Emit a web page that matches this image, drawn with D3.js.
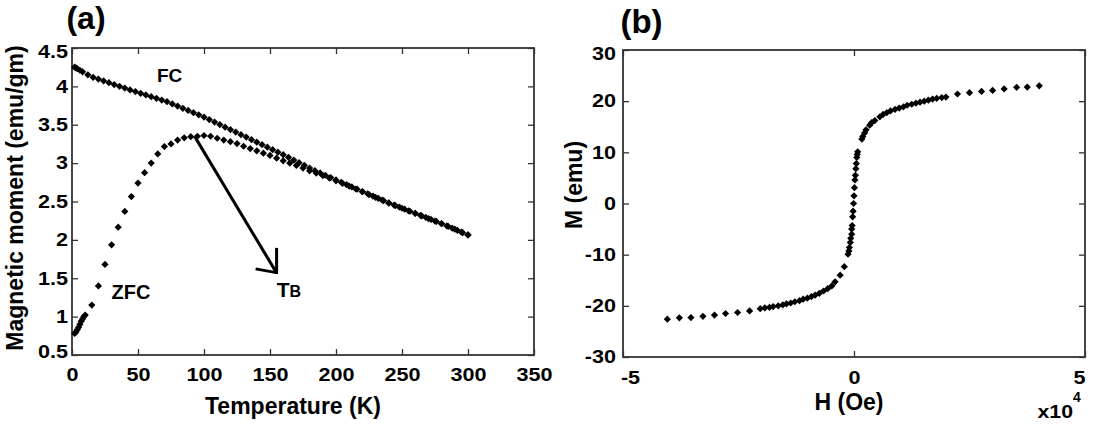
<!DOCTYPE html>
<html><head><meta charset="utf-8">
<script src="https://cdn.jsdelivr.net/npm/d3@7"></script>
<style>
body{margin:0;background:#fff}
svg{display:block}
text{font-family:"Liberation Sans",Arial,sans-serif;font-weight:bold;fill:#000}
</style>
</head><body>
<svg id="c" width="1094" height="428"></svg>
<script>
// ---------- Panel (a): FC / ZFC magnetisation vs temperature ----------
const fcT = [2,3,4,6,8,12,16,20,24,28,32,36,40,44,48,52,56,60,64,68,72,76,80,84,88,92,96,100,104,108,112,116,120,124,128,132,136,140,144,148,152,156,160,164,168,172,176,180,184,188,192,196,200,204,208,212,216,220,224,228,232,236,240,244,248,252,256,260,264,268,272,276,280,284,288,292,296,300];
const fcM = [4.25,4.24,4.23,4.21,4.19,4.15,4.118,4.095,4.071,4.048,4.024,4.001,3.978,3.954,3.932,3.910,3.888,3.866,3.844,3.822,3.80,3.771,3.743,3.714,3.686,3.657,3.629,3.60,3.567,3.535,3.502,3.469,3.437,3.404,3.371,3.339,3.306,3.273,3.241,3.208,3.175,3.143,3.11,3.075,3.040,3.006,2.971,2.936,2.902,2.872,2.842,2.812,2.781,2.751,2.721,2.690,2.66,2.630,2.601,2.571,2.541,2.512,2.482,2.453,2.427,2.400,2.373,2.347,2.320,2.293,2.267,2.24,2.211,2.182,2.152,2.123,2.094,2.065];
const zfcT = [2,3,4,5,6,7,8,9,10,15,20,25,30,35,40,45,50,55,60,65,70,75,80,85,90,95,100,105,110,115,120,125,130,135,140,145,150,155,160,165,170,175,180,185,190,195,200,205,210,215,220,225,230,235,240,245,250,255,260,265,270,275,280,285,290,295,300];
const zfcM = [0.78,0.80,0.83,0.86,0.90,0.94,0.97,1.00,1.02,1.15,1.40,1.68,1.935,2.165,2.37,2.564,2.74,2.876,3.0,3.12,3.215,3.25,3.30,3.33,3.345,3.35,3.36,3.35,3.324,3.30,3.28,3.255,3.22,3.19,3.16,3.13,3.10,3.064,3.03,3.0,2.97,2.935,2.90,2.87,2.838,2.805,2.77,2.735,2.70,2.663,2.627,2.59,2.553,2.517,2.48,2.445,2.412,2.378,2.345,2.312,2.278,2.245,2.21,2.175,2.14,2.10,2.065];
const aXTicks = [0,50,100,150,200,250,300,350];
const aYTicks = [0.5,1,1.5,2,2.5,3,3.5,4,4.5];
const arrowFrom = [93, 3.345];
const arrowTo = [155, 1.57];

// ---------- Panel (b): M-H loop ----------
const hField = [-4.04,-3.78,-3.53,-3.27,-3.02,-2.78,-2.52,-2.26,-2.03,-1.93,-1.83,-1.75,-1.64,-1.54,-1.46,-1.37,-1.28,-1.18,-1.10,-1.01,-0.92,-0.84,-0.75,-0.66,-0.57,-0.48,-0.41,-0.30,-0.21,-0.13,-0.11,-0.10,-0.08,-0.07,-0.05,-0.05,-0.04,-0.03,-0.02,-0.01,0.00,0.01,0.02,0.03,0.04,0.05,0.06,0.07,0.08,0.17,0.19,0.23,0.26,0.34,0.38,0.45,0.56,0.63,0.71,0.79,0.89,0.98,1.07,1.15,1.25,1.34,1.43,1.52,1.61,1.70,1.79,1.90,1.99,2.24,2.50,2.76,3.00,3.25,3.52,3.75,4.01];
const mMoment = [-22.6,-22.35,-22.3,-22.05,-21.8,-21.5,-21.3,-21.0,-20.55,-20.4,-20.3,-20.15,-20.0,-19.8,-19.6,-19.45,-19.2,-19.0,-18.7,-18.5,-18.2,-17.9,-17.55,-17.1,-16.65,-16.1,-15.3,-14.0,-12.35,-9.9,-9.3,-8.6,-7.6,-6.8,-6.0,-5.0,-4.3,-2.6,-1.5,0.0,1.5,3.1,4.6,5.5,6.8,7.8,9.0,9.6,10.1,12.6,13.1,13.8,14.4,15.3,15.8,16.2,16.95,17.4,17.75,18.1,18.4,18.65,18.9,19.2,19.4,19.6,19.8,20.0,20.2,20.4,20.55,20.7,20.8,21.4,21.65,21.9,22.1,22.4,22.7,22.75,23.0];
const bXTicks = [-5,0,5];
const bYTicks = [-30,-20,-10,0,10,20,30];

const svg = d3.select("#c");
const FRAME = "#333";
const diamond = d3.symbol().type(d3.symbolSquare).size(26);
const plain = d => String(d);

function drawFrame(x, y, xt, yt, opts) {
  const g = svg.append("g");
  const [x0, x1] = x.range(), [y0, y1] = y.range();
  const bx = g.append("g").attr("transform", `translate(0,${y0})`)
    .call(d3.axisBottom(x).tickValues(xt).tickSizeInner(-6).tickSizeOuter(0).tickPadding(opts.xPad).tickFormat(plain));
  g.append("g").attr("transform", `translate(0,${y1})`)
    .call(d3.axisTop(x).tickValues(xt).tickSizeInner(-6).tickSizeOuter(0).tickFormat(""));
  const ly = g.append("g").attr("transform", `translate(${x0},0)`)
    .call(d3.axisLeft(y).tickValues(yt).tickSizeInner(-6).tickSizeOuter(0).tickPadding(opts.yPad).tickFormat(plain));
  g.append("g").attr("transform", `translate(${x1},0)`)
    .call(d3.axisRight(y).tickValues(yt).tickSizeInner(-6).tickSizeOuter(0).tickFormat(""));
  g.selectAll(".domain").remove();
  g.selectAll("g").attr("font-family", null).attr("font-size", null);
  g.selectAll(".tick line").attr("stroke", FRAME).attr("stroke-width", 1.3);
  g.selectAll(".tick text").attr("font-size", 18).classed("tk", true).attr("fill", "#000");
  g.append("rect").attr("x", x0).attr("y", y1).attr("width", x1 - x0).attr("height", y0 - y1)
    .attr("fill", "none").attr("stroke", FRAME).attr("stroke-width", 1.8);
  return {bx, ly};
}

// Panel (a)
const xA = d3.scaleLinear().domain([0, 350]).range([72, 534]);
const yA = d3.scaleLinear().domain([0.5, 4.5]).range([355, 48]);
const fa = drawFrame(xA, yA, aXTicks, aYTicks, {xPad: 13, yPad: 4});
fa.ly.selectAll(".tick text").filter(d => d === 4.5).attr("dy", "0.55em");
fa.ly.selectAll(".tick text").filter(d => d === 0.5).attr("dy", "0.12em");

const ga = svg.append("g");
ga.selectAll("path.fc").data(fcT.map((t, i) => [t, fcM[i]])).join("path")
  .attr("d", diamond).attr("fill", "#000")
  .attr("transform", d => `translate(${xA(d[0])},${yA(d[1])}) rotate(45)`);
ga.selectAll("path.zfc").data(zfcT.map((t, i) => [t, zfcM[i]])).join("path")
  .attr("d", diamond).attr("fill", "#000")
  .attr("transform", d => `translate(${xA(d[0])},${yA(d[1])}) rotate(45)`);

// arrow to T_B
const ax1 = xA(arrowFrom[0]), ay1 = yA(arrowFrom[1]), ax2 = xA(arrowTo[0]), ay2 = yA(arrowTo[1]);
ga.append("line").attr("x1", ax1).attr("y1", ay1).attr("x2", ax2).attr("y2", ay2)
  .attr("stroke", "#000").attr("stroke-width", 3);
ga.append("line").attr("x1", ax2).attr("y1", ay2 + 1).attr("x2", ax2).attr("y2", ay2 - 25)
  .attr("stroke", "#000").attr("stroke-width", 3);
ga.append("line").attr("x1", ax2 + 1).attr("y1", ay2).attr("x2", ax2 - 21).attr("y2", ay2 - 4)
  .attr("stroke", "#000").attr("stroke-width", 3);

ga.append("text").attr("x", xA(74)).attr("y", yA(4.057)).attr("text-anchor", "middle")
  .attr("font-size", 19).attr("fill", "#1a1a1a").text("FC");
ga.append("text").attr("x", xA(44.7)).attr("y", yA(1.232)).attr("text-anchor", "middle")
  .attr("font-size", 20).attr("fill", "#1a1a1a").text("ZFC");
const tb = ga.append("text").attr("x", xA(155.1)).attr("y", yA(1.262)).attr("fill", "#1a1a1a");
tb.append("tspan").attr("font-size", 21).text("T");
tb.append("tspan").attr("font-size", 16).text("B");

svg.append("text").attr("x", 293).attr("y", 414).attr("text-anchor", "middle").attr("font-size", 23).text("Temperature (K)");
svg.append("text").attr("transform", "translate(23,198) rotate(-90)").attr("text-anchor", "middle").attr("font-size", 23).text("Magnetic moment (emu/gm)");
svg.append("text").attr("x", 86).attr("y", 28.5).attr("text-anchor", "middle").attr("font-size", 32).text("(a)");

// Panel (b)
const xB = d3.scaleLinear().domain([-5, 5]).range([623, 1085]);
const yB = d3.scaleLinear().domain([-30, 30]).range([357, 50]);
const fb = drawFrame(xB, yB, bXTicks, bYTicks, {xPad: 14, yPad: 7});
fb.bx.selectAll(".tick text").filter(d => d === -5).attr("x", 7);
fb.bx.selectAll(".tick text").filter(d => d === 5).attr("x", -6);
fb.ly.selectAll(".tick text").filter(d => d === 30).attr("dy", "0.5em");

const gb = svg.append("g");
gb.selectAll("path").data(hField.map((h, i) => [h, mMoment[i]])).join("path")
  .attr("d", diamond).attr("fill", "#000")
  .attr("transform", d => `translate(${xB(d[0])},${yB(d[1])}) rotate(45)`);

svg.append("text").attr("x", 849).attr("y", 410).attr("text-anchor", "middle").attr("font-size", 23).text("H (Oe)");
svg.append("text").attr("transform", "translate(582,185) rotate(-90)").attr("text-anchor", "middle").attr("font-size", 23).text("M (emu)");
svg.append("text").attr("x", 641.5).attr("y", 33).attr("text-anchor", "middle").attr("font-size", 33).text("(b)");
svg.append("text").attr("x", 1073).attr("y", 418).attr("text-anchor", "end").attr("font-size", 19).classed("tk2", true).text("x10");
svg.append("text").attr("x", 1073).attr("y", 402).attr("font-size", 14).text("4");

// widen tick labels to match the reference's broad lettering
svg.selectAll("text.tk").each(function () {
  const w = this.getComputedTextLength();
  this.setAttribute("textLength", (w * 1.2).toFixed(1));
  this.setAttribute("lengthAdjust", "spacingAndGlyphs");
});
svg.selectAll("text.tk2").each(function () {
  const w = this.getComputedTextLength();
  this.setAttribute("textLength", (w * 1.12).toFixed(1));
  this.setAttribute("lengthAdjust", "spacingAndGlyphs");
});
</script>
</body></html>
